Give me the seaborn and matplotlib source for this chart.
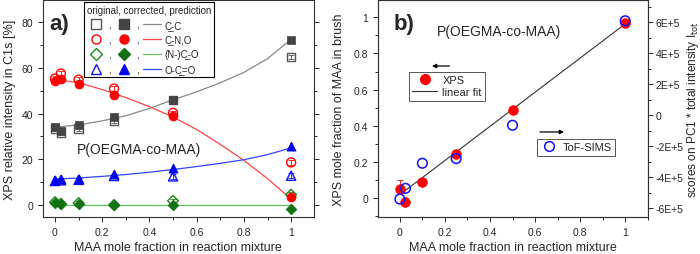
#!/usr/bin/env python3

import numpy as np
import seaborn as sns
import matplotlib.pyplot as plt
from matplotlib.lines import Line2D
from matplotlib.ticker import MultipleLocator, FuncFormatter

sns.set_style('ticks')
plt.rcParams['font.family'] = ['Liberation Sans', 'DejaVu Sans']

# panel a) XPS C1s components vs MAA fraction
x_mix = [0, 0.025, 0.1, 0.25, 0.5, 1]
cc_orig = [33.5, 31.7, 33.5, 36.8, 45.8, 64.7]
cc_corr = [34.0, 32.3, 34.9, 38.5, 45.8, 72.4]
cno_orig = [55.3, 57.5, 54.8, 50.9, 40.3, 18.6]
cno_corr = [54.1, 55.3, 53.0, 48.0, 38.8, 3.3]
nco_orig = [1.2, 0.5, 0.8, 0.0, 1.8, 4.5]
nco_corr = [1.0, 0.3, 0.6, -0.2, -0.2, -1.7]
oco_orig = [10.5, 10.8, 11.0, 12.7, 12.5, 12.8]
oco_corr = [11.0, 11.3, 11.5, 13.5, 16.0, 25.7]

x_pred = [0, 0.1, 0.2, 0.3, 0.4, 0.5, 0.6, 0.7, 0.8, 0.9, 1.0]
cc_pred = [34.0, 35.0, 36.8, 39.0, 42.3, 46.0, 49.5, 53.5, 58.0, 64.0, 72.5]
cno_pred = [55.0, 53.5, 50.5, 47.0, 43.0, 38.5, 33.0, 26.5, 19.5, 11.5, 2.5]
nco_pred = [0, 0, 0, 0, 0, 0, 0, 0, 0, 0, 0]
oco_pred = [11.3, 11.8, 12.5, 13.3, 14.3, 15.5, 16.8, 18.2, 19.8, 22.0, 25.0]

names = ['C\u0332-C', 'C\u0332-N,O', '(N-)C\u0332-O', 'O-C\u0332=O']

# panel b) XPS mole fraction and ToF-SIMS scores
xps_frac = [0.052, -0.022, 0.092, 0.245, 0.488, 0.969]
xps_err = [0.05, 0, 0, 0, 0, 0]
fit_x = [0.01, 1.0]
fit_y = [0.03, 0.963]
sims_scores = [-5.4e5, -4.71e5, -3.09e5, -2.79e5, -0.64e5, 6.1e5]

FS = 7.5
LFS = 9

fig = plt.figure(figsize=(7, 2.55), dpi=100)
ax = fig.add_axes([0.061, 0.145, 0.3876, 0.851])
ax2 = fig.add_axes([0.54, 0.145, 0.3853, 0.851])
ax2r = ax2.twinx()

styles = [
        ('s', '#555555', '#444444', '#888888', cc_orig, cc_corr, cc_pred),
        ('o', '#ff0000', '#ff0000', '#ff4444', cno_orig, cno_corr, cno_pred),
        ('D', '#1a8a1a', '#137013', '#66bb66', nco_orig, nco_corr, nco_pred),
        ('^', '#1010ff', '#0000ee', '#3344ff', oco_orig, oco_corr, oco_pred),
]
msize = {'s': 36, 'o': 42, 'D': 30, '^': 44}

open_h, fill_h, line_h = [], [], []
for m, ec, fc, lc, yo, yc, yp in styles:
    sns.lineplot(x=x_pred, y=yp, ax=ax, color=lc, lw=0.9, zorder=1)
    ax.errorbar(x_mix, yo, yerr=1.0, fmt='none', ecolor=ec, elinewidth=0.6,
                capsize=2, capthick=0.6, zorder=2)
    sns.scatterplot(x=x_mix, y=yo, ax=ax, marker=m, s=msize[m], facecolor='none',
                    edgecolor=ec, linewidth=1.0, zorder=2)
    sns.scatterplot(x=x_mix, y=yc, ax=ax, marker=m, s=msize[m], color=fc,
                    edgecolor=fc, linewidth=0.5, zorder=3)
    open_h.append(Line2D([], [], ls='none', marker=m, ms=6.5, mfc='none', mec=ec, mew=1.0))
    fill_h.append(Line2D([], [], ls='none', marker=m, ms=6.5, mfc=fc, mec=fc))
    line_h.append(Line2D([], [], color=lc, lw=0.9))

leg = ax.legend(handles=open_h + fill_h + line_h, labels=[','] * 8 + names,
                ncol=3, title='original, corrected, prediction', fontsize=7,
                title_fontsize=7, loc='upper left', bbox_to_anchor=(0.145, 1.0),
                handlelength=1.9, handletextpad=0.3, columnspacing=0.4,
                labelspacing=0.5, borderpad=0.3, fancybox=False, framealpha=1,
                edgecolor='black', borderaxespad=0.2)
leg.get_frame().set_linewidth(0.8)
leg._legend_box.align = 'left'

ax.set_xlim(-0.052, 1.097)
ax.set_ylim(-5.3, 89.7)
ax.xaxis.set_major_locator(MultipleLocator(0.2))
ax.xaxis.set_minor_locator(MultipleLocator(0.1))
ax.yaxis.set_major_locator(MultipleLocator(20))
ax.yaxis.set_minor_locator(MultipleLocator(10))
ax.xaxis.set_major_formatter(FuncFormatter(lambda v, p: f'{v:g}'))
ax.set_xlabel('MAA mole fraction in reaction mixture', fontsize=LFS, labelpad=3)
ax.set_ylabel('XPS relative intensity in C1s [%]', fontsize=LFS, labelpad=4)
ax.text(0.126, 0.313, 'P(OEGMA-co-MAA)', transform=ax.transAxes, fontsize=10,
        va='center', ha='left')
ax.text(0.023, 0.894, 'a)', transform=ax.transAxes, fontsize=16,
        fontweight='bold', va='center', ha='left')
ax.tick_params(which='both', direction='out', labelsize=FS, width=0.7)
ax.tick_params(which='major', length=3.5)
ax.tick_params(which='minor', length=2)
ax.tick_params(which='both', top=True, right=True)

# panel b
sns.lineplot(x=fit_x, y=fit_y, ax=ax2, color='#333333', lw=0.8, zorder=1)
ax2.errorbar(x_mix, xps_frac, yerr=[[0] * 6, xps_err], fmt='none',
             ecolor='#ff0000', elinewidth=0.6, capsize=2, capthick=0.6)
sns.scatterplot(x=x_mix, y=xps_frac, ax=ax2, marker='o', s=48, color='#ff0000',
                edgecolor='#ff0000', zorder=2)
sns.scatterplot(x=x_mix, y=sims_scores, ax=ax2r, marker='o', s=48,
                facecolor='none', edgecolor='#1010ff', linewidth=1.1, zorder=3)

lg2 = ax2.legend(handles=[Line2D([], [], ls='none', marker='o', ms=7, mfc='#ff0000', mec='#ff0000'),
                          Line2D([], [], color='#333333', lw=0.8)],
                 labels=['XPS', 'linear fit'], fontsize=8, loc='upper left',
                 bbox_to_anchor=(0.115, 0.67), handlelength=2.2, handletextpad=0.5,
                 labelspacing=0.2, borderpad=0.3, fancybox=False, framealpha=1,
                 edgecolor='#555555', borderaxespad=0)
lg2.get_frame().set_linewidth(0.7)
lg3 = ax2r.legend(handles=[Line2D([], [], ls='none', marker='o', ms=7, mfc='none',
                                  mec='#1010ff', mew=1.1)],
                  labels=['ToF-SIMS'], fontsize=8, loc='upper left',
                  bbox_to_anchor=(0.59, 0.36), handlelength=1.5, handletextpad=0.5,
                  borderpad=0.3, fancybox=False, framealpha=1,
                  edgecolor='#555555', borderaxespad=0)
lg3.get_frame().set_linewidth(0.7)

ax2.annotate('', xy=(0.19, 0.696), xytext=(0.275, 0.696), xycoords='axes fraction',
             arrowprops=dict(arrowstyle='-|>', color='black', lw=0.9,
                             mutation_scale=6))
ax2.annotate('', xy=(0.70, 0.392), xytext=(0.59, 0.392), xycoords='axes fraction',
             arrowprops=dict(arrowstyle='-|>', color='black', lw=0.9,
                             mutation_scale=6))

ax2.set_xlim(-0.097, 1.1)
ax2.set_ylim(-0.103, 1.095)
ax2r.set_ylim(-6.56e5, 7.44e5)
ax2.xaxis.set_major_locator(MultipleLocator(0.2))
ax2.xaxis.set_minor_locator(MultipleLocator(0.1))
ax2.yaxis.set_major_locator(MultipleLocator(0.2))
ax2.yaxis.set_minor_locator(MultipleLocator(0.1))
ax2r.yaxis.set_major_locator(MultipleLocator(2e5))
ax2r.yaxis.set_minor_locator(MultipleLocator(1e5))
ax2.xaxis.set_major_formatter(FuncFormatter(lambda v, p: f'{v:g}'))
ax2.yaxis.set_major_formatter(FuncFormatter(lambda v, p: f'{v:g}'))
ax2r.yaxis.set_major_formatter(FuncFormatter(
        lambda v, p: '0' if abs(v) < 1 else f'{v / 1e5:.0f}E+5'))
ax2.set_xlabel('MAA mole fraction in reaction mixture', fontsize=LFS, labelpad=3)
ax2.set_ylabel('XPS mole fraction of MAA in brush', fontsize=LFS, labelpad=6)
ax2r.set_ylabel('scores on PC1 * total intensity I$_{\\rm tot}$', fontsize=8.5,
                labelpad=1)
ax2.text(0.219, 0.857, 'P(OEGMA-co-MAA)', transform=ax2.transAxes, fontsize=10,
         va='center', ha='left')
ax2.text(0.056, 0.894, 'b)', transform=ax2.transAxes, fontsize=16,
         fontweight='bold', va='center', ha='left')
ax2.tick_params(which='both', direction='out', labelsize=FS, width=0.7)
ax2.tick_params(which='major', length=3.5)
ax2.tick_params(which='minor', length=2)
ax2.tick_params(which='both', top=True)
ax2r.tick_params(which='both', direction='out', labelsize=FS, width=0.7, pad=2)
ax2r.tick_params(which='major', length=3.5)
ax2r.tick_params(which='minor', length=2)
ax2.tick_params(axis='x', which='both', top=True, labeltop=False)

for a in (ax, ax2, ax2r):
    for s in a.spines.values():
        s.set_linewidth(0.8)
        s.set_color('#333333')

plt.savefig('out.png', dpi=100)
